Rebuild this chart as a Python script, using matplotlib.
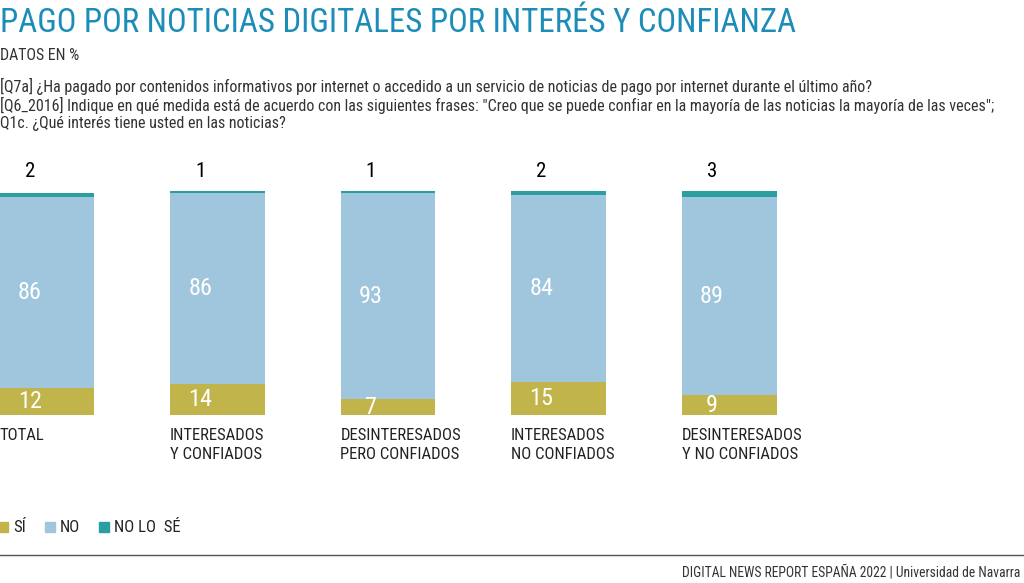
import matplotlib
matplotlib.use("Agg")
import matplotlib.pyplot as plt
from matplotlib.patches import Rectangle

# datos del gráfico
categorias = ["TOTAL", "INTERESADOS\nY CONFIADOS", "DESINTERESADOS\nPERO CONFIADOS",
              "INTERESADOS\nNO CONFIADOS", "DESINTERESADOS\nY NO CONFIADOS"]
si = [12, 14, 7, 15, 9]
no = [86, 86, 93, 84, 89]
no_lo_se = [2, 1, 1, 2, 3]

C_SI = "#c0b44b"
C_NO = "#9fc6dd"
C_NLS = "#2a9ea0"
C_TIT = "#1b8db8"
C_TXT = "#222222"

FONT = ["Liberation Sans Narrow", "Roboto Condensed", "DejaVu Sans"]
plt.rcParams["font.family"] = FONT

fig = plt.figure(figsize=(10.24, 5.83), dpi=100)

# ejes colocados en pixeles: base de barras en y=415, 100% en y=193
H = 583.0
ytop = 104
ax = fig.add_axes([0, (H - 415) / H, 1, 222 * ytop / 100 / H])
paso = 170.5
ax.set_xlim(-47 / paso, -47 / paso + 1024 / paso)
ax.set_ylim(0, ytop)
ax.axis("off")

ancho = 95 / paso
x = list(range(len(categorias)))
ax.bar(x, si, width=ancho, color=C_SI, linewidth=0)
ax.bar(x, no, width=ancho, bottom=si, color=C_NO, linewidth=0)
base = [a + b for a, b in zip(si, no)]
ax.bar(x, no_lo_se, width=ancho, bottom=base, color=C_NLS, linewidth=0)

off = -0.1
for i in x:
    ax.text(i + off, si[i] / 2, str(si[i]), color="white", fontsize=17.5,
            ha="center", va="center")
    ax.text(i + off, si[i] + no[i] / 2, str(no[i]), color="white", fontsize=17.5,
            ha="center", va="center")
    ax.text(i + off, 109.5, str(no_lo_se[i]), color="black", fontsize=15,
            ha="center", va="center", clip_on=False)
    ax.text(i - ancho / 2, -6, categorias[i], color=C_TXT, fontsize=12,
            ha="left", va="top", linespacing=1.3, clip_on=False)

# titulos
fig.text(0.0, 1 - 23 / H, "PAGO POR NOTICIAS DIGITALES POR INTERÉS Y CONFIANZA",
         color=C_TIT, fontsize=23.7, ha="left", va="center")
fig.text(0.0, 1 - 55 / H, "DATOS EN %", color="#333333", fontsize=11.4,
         ha="left", va="center")
preguntas = [
    "[Q7a] ¿Ha pagado por contenidos informativos por internet o accedido a un servicio de noticias de pago por internet durante el último año?",
    "[Q6_2016] Indique en qué medida está de acuerdo con las siguientes frases: \"Creo que se puede confiar en la mayoría de las noticias la mayoría de las veces\";",
    "Q1c. ¿Qué interés tiene usted en las noticias?",
]
for k, p in enumerate(preguntas):
    fig.text(0.0, 1 - (86 + 19 * k) / H, p, color="#333333", fontsize=11.5,
             ha="left", va="center")

# leyenda
ly = 1 - 527 / H
ley = [("SÍ", C_SI, -2, 13), ("NO", C_NO, 45, 60), ("NO LO  SÉ", C_NLS, 99, 114)]
for txt, col, xs, xt in ley:
    fig.patches.append(Rectangle((xs / 1024, ly - 5 / H), 10 / 1024, 10 / H,
                                 transform=fig.transFigure, color=col))
    fig.text(xt / 1024, ly, txt, color=C_TXT, fontsize=12, ha="left", va="center")

# linea y pie
fig.add_artist(plt.Line2D([0, 1], [1 - 555 / H, 1 - 555 / H], color="#555555",
                          linewidth=1, transform=fig.transFigure))
fig.text(1020 / 1024, 1 - 572 / H,
         "DIGITAL NEWS REPORT ESPAÑA 2022 | Universidad de Navarra",
         color="#333333", fontsize=9.8, ha="right", va="center")

fig.savefig("out.png", dpi=100)
